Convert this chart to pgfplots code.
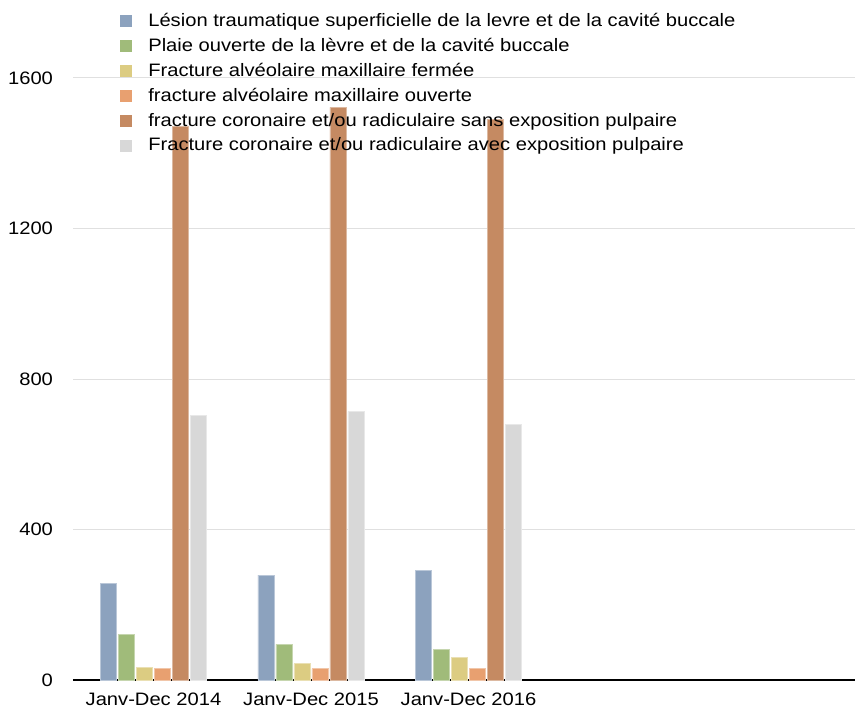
\documentclass[border=0pt]{standalone}
\usepackage{pgfplots}
\pgfplotsset{compat=1.18}
\usepackage{fontspec}
\setmainfont{Liberation Sans}[FakeStretch=1.12]
\definecolor{cBlue}{RGB}{140,162,190}
\definecolor{cGreen}{RGB}{160,187,122}
\definecolor{cYellow}{RGB}{220,204,130}
\definecolor{cOrange}{RGB}{232,160,112}
\definecolor{cBrown}{RGB}{197,138,98}
\definecolor{cGray}{RGB}{216,216,216}
\begin{document}
\begin{tikzpicture}
\path[use as bounding box] (-36.5pt,-14.5pt) rectangle (391pt,340pt);
\begin{axis}[
  at={(0,0)}, anchor=south west,
  scale only axis,
  width=391pt, height=337.5pt,
  xmin=-0.511, xmax=4.454,
  ymin=0, ymax=1794,
  ybar=1pt, bar width=8pt,
  axis x line*=bottom,
  axis y line*=left,
  x axis line style={black, line width=0.9pt, -},
  y axis line style={draw=none},
  xtick={0,1,2},
  xticklabels={Janv-Dec 2014,Janv-Dec 2015,Janv-Dec 2016},
  ytick={0,400,800,1200,1600},
  major tick length=0pt,
  ymajorgrids, grid style={black!12, line width=0.5pt},
  /pgf/number format/assume math mode=true,
  /pgf/number format/1000 sep={},
  tick label style={font=\fontsize{9}{10}\selectfont},
  yticklabel style={anchor=east, xshift=-6.5pt},
  xticklabel style={yshift=-3pt},
  clip=false,
  legend cell align=left,
  legend style={at={(axis description cs:0.060,0.992)}, anchor=north west,
    draw=none, fill=none, font=\fontsize{9}{10}\selectfont,
    row sep=2.4pt, inner sep=0pt,
    nodes={inner sep=1pt, anchor=west}},
  legend image code/.code={\draw[#1,draw=none] (0pt,-3pt) rectangle (6pt,3pt);},
  /tikz/every odd column/.append style={column sep=7pt},
]
\addplot[fill=cBlue, draw=cBlue!60!white, line width=0.4pt] coordinates {(0,257) (1,279) (2,291)};
\addplot[fill=cGreen, draw=cGreen!60!white, line width=0.4pt] coordinates {(0,120) (1,95) (2,82)};
\addplot[fill=cYellow, draw=cYellow!60!white, line width=0.4pt] coordinates {(0,34) (1,43) (2,60)};
\addplot[fill=cOrange, draw=cOrange!60!white, line width=0.4pt] coordinates {(0,30) (1,30) (2,30)};
\addplot[fill=cBrown, draw=cBrown!60!white, line width=0.4pt] coordinates {(0,1471) (1,1522) (2,1490)};
\addplot[fill=cGray, draw=cGray!60!white, line width=0.4pt] coordinates {(0,704) (1,713) (2,680)};
\legend{Lésion traumatique superficielle de la levre et de la cavité buccale,
Plaie ouverte de la lèvre et de la cavité buccale,
Fracture alvéolaire maxillaire fermée,
fracture alvéolaire maxillaire ouverte,
fracture coronaire et/ou radiculaire sans exposition pulpaire,
Fracture coronaire et/ou radiculaire avec exposition pulpaire}
\end{axis}
\end{tikzpicture}
\end{document}
